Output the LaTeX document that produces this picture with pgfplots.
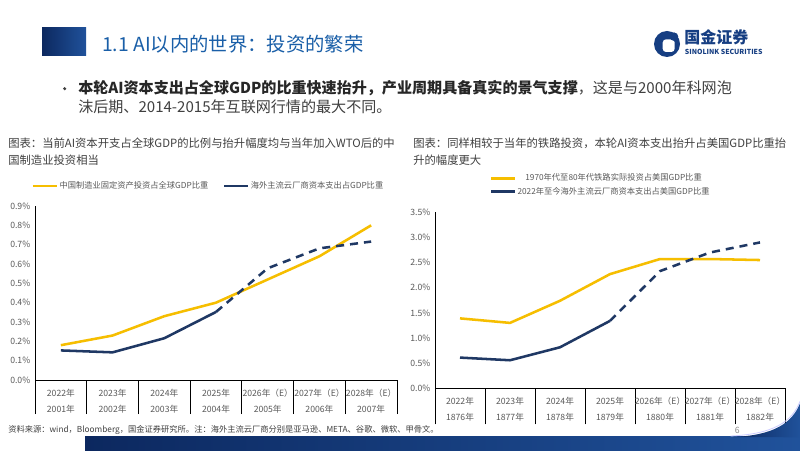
\documentclass[border=0pt]{standalone}
\usepackage{pgfplots}
\pgfplotsset{compat=1.18}
\usepackage{fontspec}
\setmainfont{Noto Sans CJK SC}
\definecolor{yel}{RGB}{246,190,0}
\definecolor{navy}{RGB}{31,56,100}
\definecolor{tblue}{RGB}{26,95,168}
\definecolor{lbl}{RGB}{89,89,89}
\definecolor{txt}{RGB}{64,64,64}
\definecolor{dnavy}{RGB}{12,40,95}
\definecolor{mblue}{RGB}{32,82,155}
\definecolor{logob}{RGB}{22,62,130}
\pgfplotsset{
  slide/.style={
    scale only axis, axis lines*=left, clip=false,
    axis line style={black, line width=0.6pt},
    xmin=-0.5, xmax=6.5, ymin=0,
    xtick={-0.5,0.5,1.5,2.5,3.5,4.5,5.5,6.5}, xticklabels={},
    tick align=outside,
    tick style={black, line width=0.6pt},
    ytick style={draw=none},
    extra x ticks={0,1,2,3,4,5,6},
    extra x tick style={major tick length=0pt, tick style={draw=none},
      xticklabel style={font=\fontsize{6.5}{12.2}\selectfont, text=lbl, align=center, yshift=-3pt}},
    legend style={draw=none, fill=none, inner sep=0pt, text=lbl,
      font=\fontsize{6.2}{7}\selectfont, nodes={inner sep=1pt}},
    legend image code/.code={\draw[#1] (0pt,0pt) -- (18pt,0pt);},
    every axis plot/.append style={line width=1.9pt, line join=round},
  }
}
\begin{document}
\begin{tikzpicture}
\useasboundingbox (0,0) rectangle (600pt,337.5pt);
\fill[white] (0,0) rectangle (600pt,337.5pt);
% header
\shade[left color=dnavy, right color=mblue] (31.5pt,295.5pt) rectangle (64.5pt,316.5pt);
\node[anchor=west, inner sep=0pt, text=tblue, font=\fontsize{14.5}{16}\selectfont] at (76.5pt,304.5pt) {1.1 AI以内的世界：投资的繁荣};
% logo
\fill[logob] (500.25pt,304.5pt) circle (9.75pt);
\fill[white, rounded corners=2.5pt] (497pt,298.5pt) rectangle (506pt,308pt);
\fill[logob] (505.5pt,310pt) circle (3.2pt);
\node[anchor=west, inner sep=0pt, text=logob, font=\fontsize{12}{13}\selectfont\bfseries] at (513pt,309.5pt) {国金证券};
\node[anchor=west, inner sep=0pt, text=logob, font=\fontsize{5.2}{6}\selectfont\bfseries] at (513.5pt,298.5pt) {SINOLINK SECURITIES};
% bullet
\fill[txt] (48.5pt,271pt) circle (1.3pt);
\node[anchor=west, inner sep=0pt, text=txt, font=\fontsize{11.3}{12}\selectfont] at (58.5pt,271.5pt) {{\bfseries\color{black!85}本轮AI资本支出占全球GDP的比重快速抬升，产业周期具备真实的景气支撑}，这是与2000年科网泡};
\node[anchor=west, inner sep=0pt, text=txt, font=\fontsize{11.3}{12}\selectfont] at (58.5pt,257.25pt) {沫后期、2014-2015年互联网行情的最大不同。};
% chart titles
\node[anchor=west, inner sep=0pt, text=txt, font=\fontsize{8.5}{9}\selectfont] at (6pt,230.25pt) {图表：当前AI资本开支占全球GDP的比例与抬升幅度均与当年加入WTO后的中};
\node[anchor=west, inner sep=0pt, text=txt, font=\fontsize{8.5}{9}\selectfont] at (6pt,217.5pt) {国制造业投资相当};
\node[anchor=west, inner sep=0pt, text=txt, font=\fontsize{8.5}{9}\selectfont] at (309.75pt,230.25pt) {图表：同样相较于当年的铁路投资，本轮AI资本支出抬升占美国GDP比重抬};
\node[anchor=west, inner sep=0pt, text=txt, font=\fontsize{8.5}{9}\selectfont] at (309.75pt,217.5pt) {升的幅度更大};
% left chart
\begin{axis}[slide,
  at={(26.25pt,52.5pt)}, anchor=south west,
  width=271.5pt, height=130.5pt, ymax=0.9,
  major tick length=25.5pt,
  yticklabel style={font=\fontsize{6.5}{7}\selectfont, text=lbl, xshift=25.5pt},
  ytick={0,0.1,0.2,0.3,0.4,0.5,0.6,0.7,0.8,0.9},
  yticklabels={0.0\%,0.1\%,0.2\%,0.3\%,0.4\%,0.5\%,0.6\%,0.7\%,0.8\%,0.9\%},
  extra x tick labels={2022年\\2001年,2023年\\2002年,2024年\\2003年,2025年\\2004年,2026年（E）\\2005年,2027年（E）\\2006年,2028年（E）\\2007年},
  legend columns=2,
  legend style={at={(-0.01,1.115)}, anchor=west, /tikz/every even column/.append style={column sep=10pt}},
]
\addplot[yel] coordinates {(0,0.18)(1,0.23)(2,0.33)(3,0.40)(4,0.52)(5,0.64)(6,0.80)};
\addlegendentry{中国制造业固定资产投资占全球GDP比重}
\addplot[navy] coordinates {(0,0.153)(1,0.143)(2,0.216)(3,0.352)};
\addlegendentry{海外主流云厂商资本支出占GDP比重}
\addplot[navy, dash pattern=on 6pt off 4.5pt, forget plot] coordinates {(3,0.352)(4,0.578)(5,0.681)(6,0.716)};
\end{axis}
% right chart
\begin{axis}[slide,
  at={(326.25pt,46.3pt)}, anchor=south west,
  width=262.5pt, height=132pt, ymax=3.5,
  major tick length=27pt,
  yticklabel style={font=\fontsize{6.5}{7}\selectfont, text=lbl, xshift=27pt},
  ytick={0,0.5,1,1.5,2,2.5,3,3.5},
  yticklabels={0.0\%,0.5\%,1.0\%,1.5\%,2.0\%,2.5\%,3.0\%,3.5\%},
  extra x tick labels={2022年\\1876年,2023年\\1877年,2024年\\1878年,2025年\\1879年,2026年（E）\\1880年,2027年（E）\\1881年,2028年（E）\\1882年},
  legend columns=1,
  legend style={at={(0.157,1.225)}, anchor=north west, row sep=2pt, nodes={inner sep=0.6pt}},
]
\addplot[yel] coordinates {(0,1.39)(1,1.30)(2,1.74)(3,2.27)(4,2.57)(5,2.57)(6,2.55)};
\addlegendentry{1970年代至80年代铁路实际投资占美国GDP比重}
\addplot[navy] coordinates {(0,0.61)(1,0.557)(2,0.815)(3,1.34)};
\addlegendentry{2022年至今海外主流云厂商资本支出占美国GDP比重}
\addplot[navy, dash pattern=on 6pt off 4.5pt, forget plot] coordinates {(3,1.34)(4,2.33)(5,2.70)(6,2.90)};
\end{axis}
% footer
\node[anchor=west, inner sep=0pt, text=txt, font=\fontsize{6.2}{7}\selectfont] at (6pt,15pt) {资料来源：wind，Bloomberg，国金证券研究所。注：海外主流云厂商分别是亚马逊、META、谷歌、微软、甲骨文。};
\node[anchor=west, inner sep=0pt, text=black!45, font=\fontsize{6.5}{7}\selectfont] at (551pt,15pt) {6};
\shade[left color=dnavy, right color=mblue] (63.75pt,0pt) rectangle (600pt,9.75pt);
\shade[left color=dnavy, right color=mblue] (550pt,9.75pt) .. controls (580pt,11pt) and (594pt,20pt) .. (600pt,35pt) -- (600pt,9.5pt) -- cycle;
\draw[white!80!blue, line width=0.6pt] (548pt,10.5pt) .. controls (580pt,12pt) and (594pt,21pt) .. (600pt,36.5pt);
\end{tikzpicture}
\end{document}
